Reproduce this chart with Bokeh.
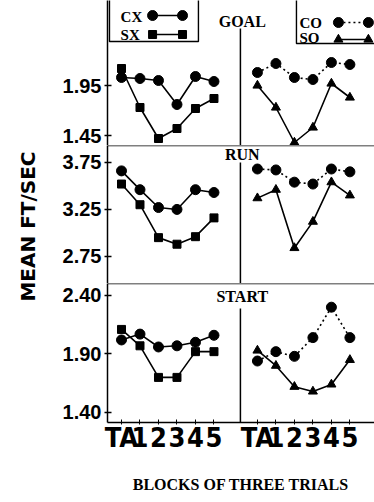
import numpy as np
from bokeh.plotting import figure
from bokeh.layouts import column, row
from bokeh.models import FixedTicker, PrintfTickFormatter, Span, Label, Range1d
from bokeh.embed import file_html
from bokeh.resources import INLINE

# ---------------- data ----------------
blocks = ["TA", "1", "2", "3", "4", "5"]

goal_cx = [2.03, 2.02, 2.00, 1.76, 2.04, 1.99]
goal_sx = [2.12, 1.73, 1.42, 1.52, 1.72, 1.82]
goal_co = [2.08, 2.17, 2.03, 2.01, 2.18, 2.16]
goal_so = [1.95, 1.73, 1.38, 1.53, 1.97, 1.83]

run_cx = [3.66, 3.46, 3.27, 3.25, 3.46, 3.43]
run_sx = [3.52, 3.30, 2.95, 2.88, 2.96, 3.16]
run_co = [3.68, 3.67, 3.54, 3.52, 3.68, 3.65]
run_so = [3.37, 3.46, 2.84, 3.12, 3.54, 3.40]

start_cx = [2.02, 2.07, 1.96, 1.97, 2.00, 2.06]
start_sx = [2.11, 1.97, 1.70, 1.70, 1.92, 1.92]
start_co = [1.84, 1.92, 1.88, 2.04, 2.30, 2.04]
start_so = [1.93, 1.80, 1.62, 1.58, 1.64, 1.85]

goal_ticks = [1.45, 1.95]
run_ticks = [2.75, 3.25, 3.75]
start_ticks = [1.40, 1.90, 2.40]

# ---------------- layout ----------------
LW_FIG = 40             # narrow column for the y title
W = 374 - LW_FIG
LEFT = 107 - LW_FIG
OFFSET = 7.35           # right panel shift along x
DIV = 6.43              # panel divider
x_left = np.arange(len(blocks), dtype=float)
x_right = x_left + OFFSET
XR = (-0.757, 13.68)

SANS = "Liberation Sans"
SERIF = "Liberation Serif"
NARROW = "'Liberation Sans Narrow', 'DejaVu Sans Condensed', sans-serif"

def make_row(height, yr, ticks, title, title_y, div_top, cx, sx, co, so, bottom=False):
    p = figure(width=W, height=height, x_range=Range1d(*XR), y_range=Range1d(*yr),
               output_backend="svg", toolbar_location=None,
               min_border_left=LEFT, min_border_right=0, min_border_top=0,
               min_border_bottom=80 if bottom else 0)
    p.outline_line_color = None
    p.grid.visible = False
    p.background_fill_color = "white"
    p.border_fill_color = "white"

    ax = p.yaxis[0]
    ax.ticker = FixedTicker(ticks=ticks)
    ax.formatter = PrintfTickFormatter(format="%.2f")
    ax.major_label_text_font = SANS
    ax.major_label_text_font_style = "bold"
    ax.major_label_text_font_size = "20px"
    ax.major_label_text_color = "black"
    ax.major_tick_in = 4
    ax.major_tick_out = 3
    ax.minor_tick_line_color = None
    ax.major_label_standoff = 3
    ax.axis_line_width = 1.5
    ax.major_tick_line_width = 1.5

    xa = p.xaxis[0]
    if bottom:
        xt = list(x_left) + list(x_right)
        xa.ticker = FixedTicker(ticks=xt)
        xa.major_label_overrides = {t: lab for t, lab in zip(xt, blocks + blocks)}
        xa.major_label_text_font = NARROW
        xa.major_label_text_font_style = "bold"
        xa.major_label_text_font_size = "27px"
        xa.major_label_text_color = "black"
        xa.major_label_standoff = -3
        xa.major_tick_in = 3
        xa.major_tick_out = 2
        xa.minor_tick_line_color = None
        xa.axis_line_width = 1.5
        xa.axis_label = "BLOCKS OF THREE TRIALS"
        xa.axis_label_text_font = SERIF
        xa.axis_label_text_font_style = "bold"
        xa.axis_label_text_font_size = "16px"
        xa.axis_label_standoff = 20
        xa.axis_label_text_color = "black"
    else:
        xa.visible = False

    # top separator line (frame top edge)
    p.add_layout(Span(location=yr[1], dimension="width", line_color="black", line_width=1.5))

    # panel divider and row title
    p.segment(x0=[DIV], y0=[yr[0]], x1=[DIV], y1=[div_top], line_color="black", line_width=1.5)
    p.add_layout(Label(x=DIV + 0.1, y=title_y, text=title, text_align="center",
                       text_baseline="middle", text_font=SERIF, text_font_style="bold",
                       text_font_size="16px", text_color="black"))

    lw = 1.6
    # left panel: CX (circles) and SX (squares)
    p.line(x_left, sx, line_color="black", line_width=lw)
    p.scatter(x_left, sx, marker="square", size=8, color="black")
    p.line(x_left, cx, line_color="black", line_width=lw)
    p.scatter(x_left, cx, marker="circle", size=10, color="black")
    # right panel: CO (circles, dotted) and SO (triangles)
    p.line(x_right, co, line_color="black", line_width=lw, line_dash="2 3")
    p.scatter(x_right, co, marker="circle", size=10, color="black")
    p.line(x_right, so, line_color="black", line_width=lw)
    p.scatter(x_right, so, marker="triangle", size=9, color="black")
    return p

p_goal = make_row(145, (1.35, 2.80), goal_ticks, "GOAL", 2.59, 2.52,
                  goal_cx, goal_sx, goal_co, goal_so)
p_run = make_row(138, (2.462, 3.93), run_ticks, "RUN", 3.834, 3.749,
                 run_cx, run_sx, run_co, run_so)
p_start = make_row(219, (1.3145, 2.5025), start_ticks, "START", 2.391, 2.289,
                   start_cx, start_sx, start_co, start_so, bottom=True)
# remove the top line of the top panel (image is cut there)
for r in list(p_goal.center):
    if isinstance(r, Span):
        r.visible = False

# ---------------- legend boxes (in GOAL row) ----------------
pg = p_goal
pg.line([-0.65, -0.65, 4.16, 4.16], [2.9, 2.39, 2.39, 2.9], line_color="black", line_width=1.4)
pg.line([9.46, 9.46, 14.2], [2.9, 2.37, 2.37], line_color="black", line_width=1.4)

leg = [
    ("CX", -0.05, 2.64, 2.65, "circle", 10, None, (1.68, 3.30)),
    ("SX", -0.05, 2.46, 2.46, "square", 8, None, (1.68, 3.30)),
    ("CO", 9.62, 2.58, 2.58, "circle", 10, "2 3", (11.73, 13.35)),
    ("SO", 9.62, 2.43, 2.41, "triangle", 9, None, (11.73, 13.35)),
]
for name, tx, ty, my, mk, sz, dash, (m0, m1) in leg:
    pg.add_layout(Label(x=tx, y=ty, text=name, text_align="left", text_baseline="middle",
                        text_font=SERIF, text_font_style="bold", text_font_size="15px",
                        text_color="black"))
    if dash:
        pg.line([m0, m1], [my, my], line_color="black", line_width=1.6, line_dash=dash)
    else:
        pg.line([m0, m1], [my, my], line_color="black", line_width=1.6)
    pg.scatter([m0, m1], [my, my], marker=mk, size=sz, color="black")

# ---------------- y title column ----------------
pl = figure(width=LW_FIG, height=502, x_range=Range1d(0, LW_FIG), y_range=Range1d(502, 0),
            output_backend="svg", toolbar_location=None,
            min_border_left=0, min_border_right=0, min_border_top=0, min_border_bottom=0)
pl.axis.visible = False
pl.grid.visible = False
pl.outline_line_color = None
pl.add_layout(Label(x=27, y=226, text="MEAN FT/SEC", angle=np.pi / 2,
                    text_align="center", text_baseline="middle",
                    text_font="DejaVu Sans", text_font_style="bold",
                    text_font_size="20px", text_color="black"))

layout = row(pl, column(p_goal, p_run, p_start, spacing=0), spacing=0)

open("out.html", "w").write(file_html(layout, INLINE))
